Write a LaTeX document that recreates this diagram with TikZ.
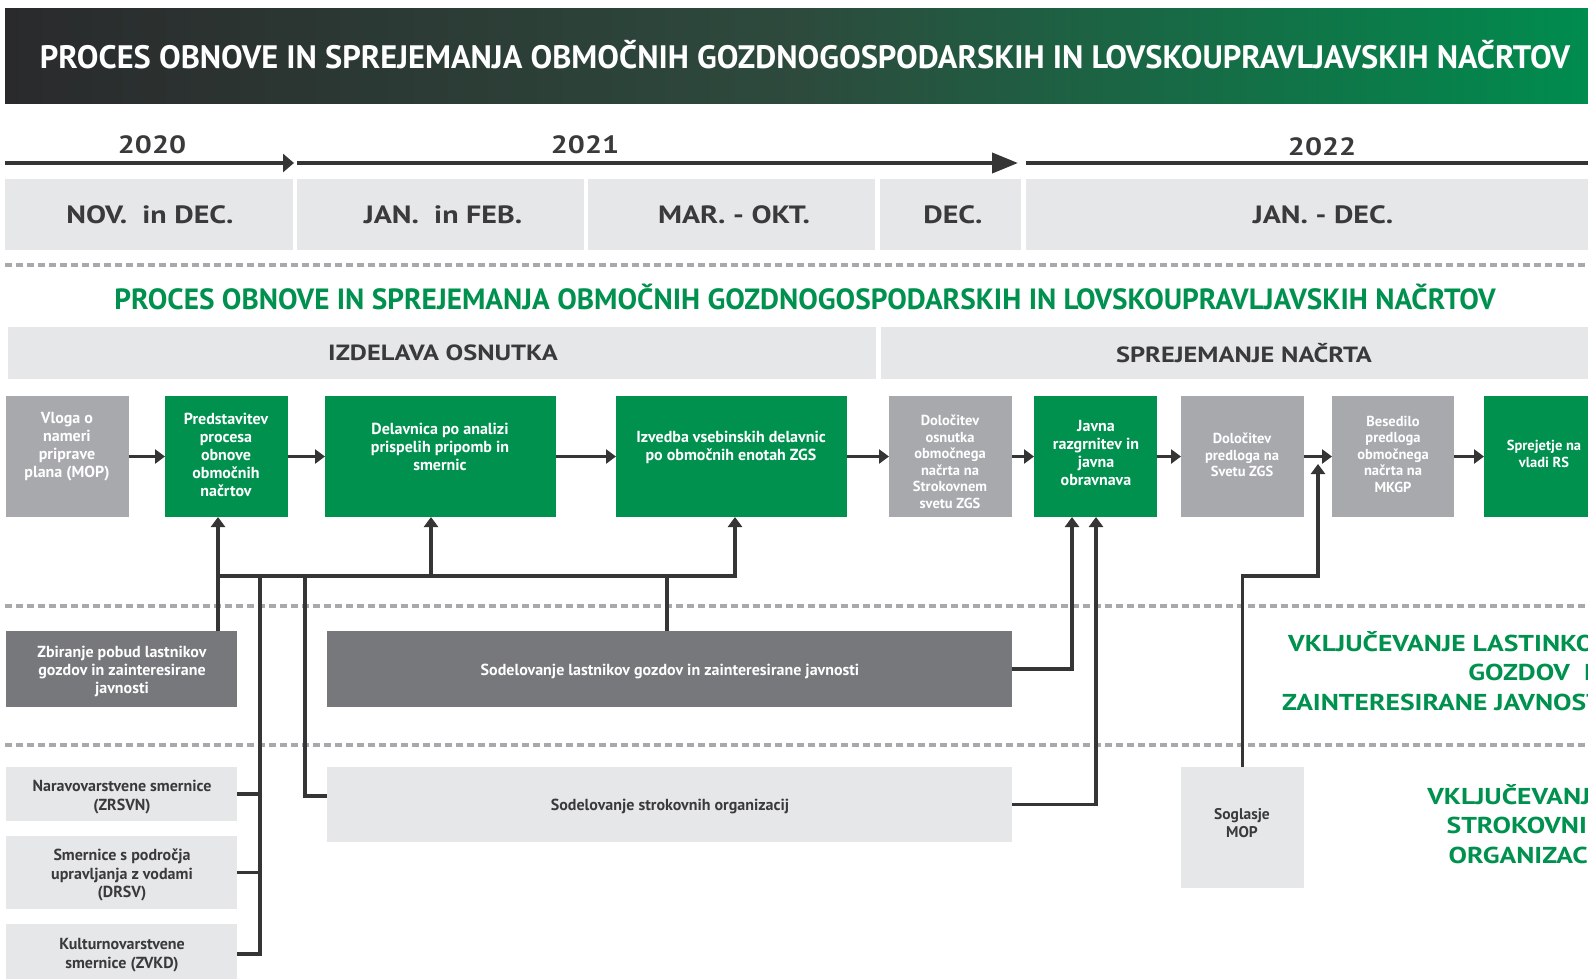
\documentclass[tikz,border=0pt]{standalone}
\usepackage{fontspec}
\usepackage{graphicx}
\setmainfont{PT Sans}
\newfontfamily\widefont{PT Sans}[FakeStretch=1.2]
\usetikzlibrary{arrows.meta}
\definecolor{grn}{HTML}{00914F}
\definecolor{hdrdark}{HTML}{2A2A2C}
\definecolor{hdrmid}{HTML}{2D4A3D}
\definecolor{hdrright}{HTML}{008C4E}
\definecolor{boxgray}{HTML}{A7A9AC}
\definecolor{darkbox}{HTML}{77787B}
\definecolor{lightbox}{HTML}{E6E7E8}
\definecolor{txtdark}{HTML}{3A3A3C}
\definecolor{linec}{HTML}{353535}
\definecolor{dashc}{HTML}{A7A9AC}
\tikzset{
 base/.style={draw=none, inner sep=0pt, outer sep=0pt, anchor=north west},
 gbox/.style={base, fill=grn},
 graybox/.style={base, fill=boxgray},
 dbox/.style={base, fill=darkbox},
 lbox/.style={base, fill=lightbox},
 wtxt/.style={text=white, align=center, font=\bfseries\fontsize{16}{18}\selectfont, inner sep=0pt},
 wtxts/.style={text=white, align=center, font=\bfseries\fontsize{14.5}{16.5}\selectfont, inner sep=0pt},
 dtxt/.style={text=txtdark, align=center, font=\bfseries\fontsize{16}{18.5}\selectfont, inner sep=0pt},
 mtxt/.style={text=txtdark, font=\widefont\bfseries\fontsize{25}{30}\selectfont, inner sep=0pt},
 ptxt/.style={text=txtdark, font=\widefont\bfseries\fontsize{22}{26}\selectfont, inner sep=0pt},
 gtxt/.style={text=grn, align=right, font=\widefont\bfseries\fontsize{23}{29.5}\selectfont, inner sep=0pt, anchor=east},
 conn/.style={draw=linec, line width=3.5pt},
 arr/.style={conn, -{Triangle[length=10pt,width=14pt]}},
 sepline/.style={draw=dashc, line width=4pt, dash pattern=on 7pt off 4pt},
}
\begin{document}
\begin{tikzpicture}[x=1pt,y=-1pt]
\useasboundingbox (0,0) rectangle (1588,978);
\clip (0,0) rectangle (1588,978);
\fill[white] (0,0) rectangle (1588,978);

% header
\node[base, minimum width=1583pt, minimum height=95pt, left color=hdrdark, right color=hdrright, middle color=hdrmid] (hdr) at (5,8) {};
\node[text=white, font=\bfseries, inner sep=0pt] (htitle) at (805,55) {\resizebox{1530pt}{!}{PROCES OBNOVE IN SPREJEMANJA OBMOČNIH GOZDNOGOSPODARSKIH IN LOVSKOUPRAVLJAVSKIH NAČRTOV}};

% timeline
\coordinate (t1a) at (5,163); \coordinate (t1b) at (294,163);
\coordinate (t2a) at (297,163); \coordinate (t2b) at (1018,163);
\coordinate (t3a) at (1026,163); \coordinate (t3b) at (1588,163);
\draw[draw=linec, line width=4pt, -{Triangle[length=11pt,width=18pt]}] (t1a) -- (t1b);
\draw[draw=linec, line width=4pt, -{Triangle[length=26pt,width=20pt]}] (t2a) -- (t2b);
\draw[draw=linec, line width=4pt] (t3a) -- (t3b);
\node[mtxt] (y20) at (152,145) {2020};
\node[mtxt] (y21) at (585,145) {2021};
\node[mtxt] (y22) at (1322,147) {2022};

% months
\node[lbox, minimum width=288pt, minimum height=71pt] (m1) at (5,179) {};
\node[lbox, minimum width=287pt, minimum height=71pt] (m2) at (297,179) {};
\node[lbox, minimum width=287pt, minimum height=71pt] (m3) at (588,179) {};
\node[lbox, minimum width=141pt, minimum height=71pt] (m4) at (880,179) {};
\node[lbox, minimum width=562pt, minimum height=71pt] (m5) at (1026,179) {};
\node[mtxt] (m1t) at (150,215) {NOV.\ \ in DEC.};
\node[mtxt] (m2t) at (443,215) {JAN.\ \ in FEB.};
\node[mtxt] (m3t) at (734,215) {MAR. - OKT.};
\node[mtxt] (m4t) at (953,215) {DEC.};
\node[mtxt] (m5t) at (1323,215) {JAN. - DEC.};

% separators
\draw[sepline] (5,265) -- (1588,265);
\draw[sepline] (5,606) -- (1588,606);
\draw[sepline] (5,745) -- (1588,745);

% green heading
\node[text=grn, font=\bfseries, inner sep=0pt] (gh) at (805,297) {\resizebox{1381pt}{!}{PROCES OBNOVE IN SPREJEMANJA OBMOČNIH GOZDNOGOSPODARSKIH IN LOVSKOUPRAVLJAVSKIH NAČRTOV}};

% phases
\node[lbox, minimum width=868pt, minimum height=52pt] (p1) at (8,327) {};
\node[lbox, minimum width=707pt, minimum height=52pt] (p2) at (881,327) {};
\node[ptxt] (p1t) at (443,353) {IZDELAVA OSNUTKA};
\node[ptxt] (p2t) at (1244,353) {SPREJEMANJE NAČRTA};

% process boxes
\node[graybox, minimum width=123pt, minimum height=121pt] (vloga) at (6,396) {};
\node[gbox, minimum width=123pt, minimum height=121pt] (predst) at (165,396) {};
\node[gbox, minimum width=231pt, minimum height=121pt] (dela) at (325,396) {};
\node[gbox, minimum width=231pt, minimum height=121pt] (izv) at (616,396) {};
\node[graybox, minimum width=123pt, minimum height=121pt] (dolo) at (889,396) {};
\node[gbox, minimum width=123pt, minimum height=121pt] (javna) at (1034,396) {};
\node[graybox, minimum width=123pt, minimum height=121pt] (dolp) at (1181,396) {};
\node[graybox, minimum width=122pt, minimum height=121pt] (bes) at (1332,396) {};
\node[gbox, minimum width=122pt, minimum height=121pt] (sprej) at (1484,396) {};

\node[wtxt] (vlogat) at (67,447) {Vloga o\\nameri\\priprave\\plana (MOP)};
\node[wtxt] (predstt) at (226,455) {Predstavitev\\procesa\\obnove\\območnih\\načrtov};
\node[wtxt] (delat) at (440,447) {Delavnica po analizi\\prispelih pripomb in\\smernic};
\node[wtxt] (izvt) at (731,447) {Izvedba vsebinskih delavnic\\po območnih enotah ZGS};
\node[wtxts] (dolot) at (950,462) {Določitev\\osnutka\\območnega\\načrta na\\Strokovnem\\svetu ZGS};
\node[wtxt] (javnat) at (1096,453) {Javna\\razgrnitev in\\javna\\obravnava};
\node[wtxts] (dolpt) at (1242,455) {Določitev\\predloga na\\Svetu ZGS};
\node[wtxts] (best) at (1393,454) {Besedilo\\predloga\\območnega\\načrta na\\MKGP};
\node[wtxts] (sprejt) at (1544,454) {Sprejetje na\\vladi RS};

% lower boxes
\node[dbox, minimum width=231pt, minimum height=76pt] (zbir) at (6,631) {};
\node[dbox, minimum width=685pt, minimum height=76pt] (sodlast) at (327,631) {};
\node[lbox, minimum width=231pt, minimum height=54pt] (narav) at (6,767) {};
\node[lbox, minimum width=231pt, minimum height=73pt] (smern) at (6,836) {};
\node[lbox, minimum width=231pt, minimum height=60pt] (kult) at (6,924) {};
\node[lbox, minimum width=685pt, minimum height=75pt] (strok) at (327,767) {};
\node[lbox, minimum width=123pt, minimum height=121pt] (sogl) at (1181,767) {};

\node[wtxt] (zbirt) at (122,671) {Zbiranje pobud lastnikov\\gozdov in zainteresirane\\javnosti};
\node[wtxt] (sodlastt) at (670,671) {Sodelovanje lastnikov gozdov in zainteresirane javnosti};
\node[dtxt] (naravt) at (122,797) {Naravovarstvene smernice\\(ZRSVN)};
\node[dtxt] (smernt) at (122,875) {Smernice s področja\\upravljanja z vodami\\(DRSV)};
\node[dtxt] (kultt) at (122,955) {Kulturnovarstvene\\smernice (ZVKD)};
\node[dtxt] (strokt) at (670,806) {Sodelovanje strokovnih organizacij};
\node[dtxt, font=\bfseries\fontsize{15.5}{17.5}\selectfont] (soglt) at (1242,823) {Soglasje\\MOP};

% right side labels
\node[gtxt] (lab1) at (1610,671) {VKLJUČEVANJE LASTINKOV\\GOZDOV\ \ IN\\ZAINTERESIRANE JAVNOSTI};
\node[gtxt] (lab2) at (1605,824) {VKLJUČEVANJE\\STROKOVNIH\\ORGANIZACIJ};

% connectors
\coordinate (bA) at (218,576); \coordinate (bB) at (431,576); \coordinate (bC) at (735,576);
\coordinate (bD) at (260,576); \coordinate (bE) at (305,576); \coordinate (bF) at (667,576);
\coordinate (sE) at (305,796);
\coordinate (lJ) at (1072,517); \coordinate (sJ) at (1096,517);
\coordinate (gA) at (1241,576); \coordinate (gB) at (1318,576); \coordinate (gT) at (1318,464);

\draw[arr] (vloga.east) -- (predst.west);
\draw[arr] (predst.east) -- (dela.west);
\draw[arr] (dela.east) -- (izv.west);
\draw[arr] (izv.east) -- (dolo.west);
\draw[arr] (dolo.east) -- (javna.west);
\draw[arr] (javna.east) -- (dolp.west);
\draw[arr] (dolp.east) -- (bes.west);
\draw[arr] (bes.east) -- (sprej.west);

\draw[arr] (zbir.north -| bA) -- (predst.south -| bA);
\draw[arr] (bA) -- (bC) -- (izv.south -| bC);
\draw[arr] (bB) -- (dela.south -| bB);
\draw[conn] (bD) -- (kult.east -| bD) -- (kult.east);
\draw[conn] (narav.east) -- (narav.east -| bD);
\draw[conn] (smern.east) -- (smern.east -| bD);
\draw[conn] (bE) -- (sE) -- (sE -| strok.west);
\draw[conn] (bF) -- (sodlast.north -| bF);
\draw[arr] (sodlast.east) -- (sodlast.east -| lJ) -- (javna.south -| lJ);
\draw[arr] (strok.east) -- (strok.east -| sJ) -- (javna.south -| sJ);
\draw[arr] (sogl.north) -- (sogl.north |- gA) -- (gB) -- (gT);
\end{tikzpicture}
\end{document}
